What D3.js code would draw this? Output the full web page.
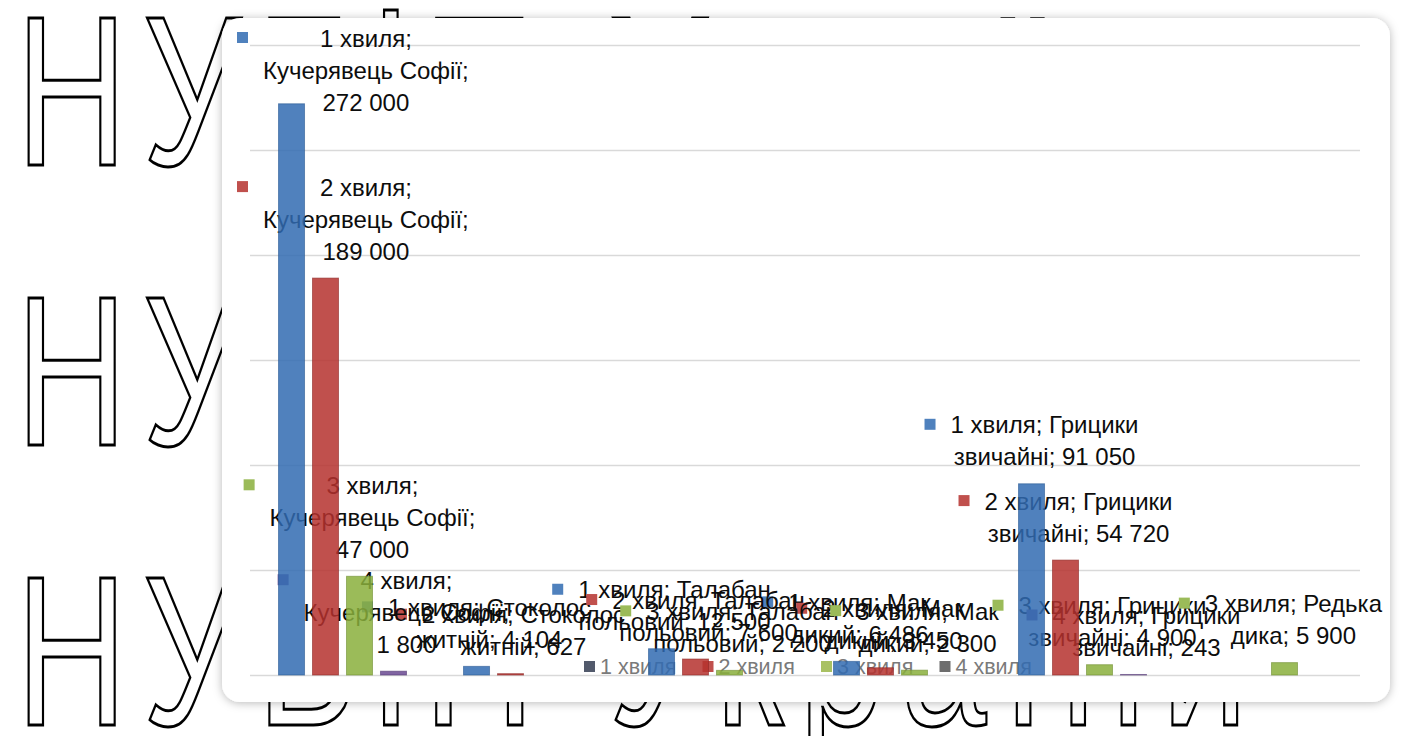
<!DOCTYPE html>
<html>
<head>
<meta charset="utf-8">
<script src="https://cdn.jsdelivr.net/npm/d3@7"></script>
<style>
  html, body { margin: 0; padding: 0; background: #fff; overflow: hidden; }
  svg { display: block; }
</style>
</head>
<body>
<svg id="chart" width="1402" height="736"></svg>
<script>
// ---- data ----
const categories = ["Кучерявець Софії", "Стоколос житній", "Талабан польовий", "Мак дикий", "Грицики звичайні", "Редька дика"];
const series = ["1 хвиля", "2 хвиля", "3 хвиля", "4 хвиля"];
const wave1 = [272000, 4104, 12500, 6486, 91050, null];
const wave2 = [189000, 627, 7600, 3450, 54720, null];
const wave3 = [47000, null, 2200, 2300, 4900, 5900];
const wave4 = [1800, null, null, null, 243, null];
const yTicks = [0, 50000, 100000, 150000, 200000, 250000, 300000];
const watermarkText = "НУБіП України";

// ---- styles ----
const keyColors = ["#4f81bd", "#c0504d", "#9bbb59", "#8064a2"];
const barColors = ["#316bb1", "#b5312e", "#89af3c", "#6a4992"];
const barEdges = ["#2a5a94", "#8f2826", "#6f8f30", "#553a75"];
const legendColors = ["#525a6c", "#c0504d", "#a9c163", "#6d6d6d"];
const labelFont = "'Liberation Sans', Arial, sans-serif";
const labelSize = 24;

const values = [wave1, wave2, wave3, wave4];
const box = { x: 222, y: 18, w: 1168, h: 684, r: 18 };
const plot = { left: 250, right: 1360, top: 45, bottom: 675 };

const svg = d3.select("#chart");
const defs = svg.append("defs");
const shadow = defs.append("filter").attr("id", "boxShadow")
  .attr("x", "-5%").attr("y", "-5%").attr("width", "110%").attr("height", "110%");
shadow.append("feDropShadow").attr("dx", 0).attr("dy", 1).attr("stdDeviation", 5)
  .attr("flood-color", "#000").attr("flood-opacity", 0.28);

// background outline lettering
const wm = svg.append("g").attr("font-family", labelFont).attr("font-size", 214);
[165, 445, 725].forEach(base => {
  wm.append("text")
    .attr("transform", `translate(16,${base}) scale(0.72,1)`)
    .attr("letter-spacing", 22)
    .attr("fill", "#fff").attr("stroke", "#000").attr("stroke-width", 3)
    .text(watermarkText);
});

// chart area
svg.append("rect")
  .attr("x", box.x).attr("y", box.y).attr("width", box.w).attr("height", box.h)
  .attr("rx", box.r).attr("fill", "#fff").attr("filter", "url(#boxShadow)");

// scales
const y = d3.scaleLinear().domain([0, 300000]).range([plot.bottom, plot.top]);
const x0 = d3.scaleBand().domain(categories).range([plot.left, plot.right]).padding(0);
const x1 = d3.scaleBand().domain(series).range([0, x0.bandwidth() * 0.735]).padding(0);
const barW = x1.step() * 0.765;
const groupOffset = (x0.bandwidth() - (x1.step() * (series.length - 1) + barW)) / 2;

// gridlines
const grid = svg.append("g")
  .attr("transform", `translate(${plot.left},0)`)
  .call(d3.axisLeft(y).tickValues(yTicks).tickSize(-(plot.right - plot.left)).tickFormat(""));
grid.select(".domain").remove();
grid.selectAll(".tick line").attr("stroke", "#d9d9d9").attr("stroke-width", 1.6);

// legend
const legendStep = 118.5;
const legendLeft = (plot.left + plot.right) / 2 - legendStep * series.length / 2 + 16;
const legend = svg.append("g").attr("font-family", labelFont).attr("font-size", 21.5);
series.forEach((s, i) => {
  const lx = legendLeft + i * legendStep;
  legend.append("rect").attr("x", lx).attr("y", 661).attr("width", 11).attr("height", 11)
    .attr("fill", legendColors[i]);
  legend.append("text").attr("x", lx + 16).attr("y", 667).attr("dominant-baseline", "central")
    .attr("fill", "#7a7a7a").text(s);
});

// bar records
const fmt = v => d3.format(",")(v).replace(/,/g, "\u00a0");
const bars = [];
series.forEach((s, si) => {
  categories.forEach((c, ci) => {
    const v = values[si][ci];
    if (v == null) return;
    const bx = x0(c) + groupOffset + x1(s);
    bars.push({ s, si, c, v, x: bx, top: y(v), cx: bx + barW / 2 });
  });
});

// data labels: key square + wrapped "series; category; value"
const measure = svg.append("text").attr("font-family", labelFont).attr("font-size", labelSize)
  .attr("visibility", "hidden");
const textW = t => { measure.text(t); return measure.node().getComputedTextLength(); };
const wrapWidth = 218;
function wrapWords(str) {
  const words = str.split(" ");
  const lines = [];
  let cur = "";
  words.forEach(w => {
    const trial = cur ? cur + " " + w : w;
    if (cur && textW(trial) > wrapWidth) { lines.push(cur); cur = w; }
    else cur = trial;
  });
  if (cur) lines.push(cur);
  return lines;
}

const lineH = 32, keySize = 11, keyGap = 15;
const labels = svg.append("g").attr("font-family", labelFont).attr("font-size", labelSize).attr("fill", "#0d0d0d");
bars.forEach(b => {
  const lines = wrapWords(`${b.s}; ${b.c}; ${fmt(b.v)}`);
  const maxW = d3.max(lines, textW);
  const blockW = keySize + keyGap + maxW;
  let left = b.cx - blockW / 2;
  left = Math.max(box.x + 15, Math.min(left, box.x + box.w - 8 - blockW));
  let firstY = b.top - 27 - (lines.length - 1) * lineH;
  firstY = Math.max(box.y + 20, firstY);
  const textCx = left + keySize + keyGap + maxW / 2;
  const g = labels.append("g");
  g.append("rect").attr("x", left).attr("y", firstY - 6).attr("width", keySize).attr("height", keySize)
    .attr("fill", keyColors[b.si]);
  lines.forEach((ln, li) => {
    g.append("text").attr("x", textCx).attr("y", firstY + li * lineH)
      .attr("text-anchor", "middle").attr("dominant-baseline", "central").text(ln);
  });
});
measure.remove();

// bars
svg.append("g").selectAll("rect").data(bars).join("rect")
  .attr("x", d => d.x).attr("y", d => d.top)
  .attr("width", barW).attr("height", d => plot.bottom - d.top)
  .attr("fill", d => barColors[d.si]).attr("fill-opacity", 0.85)
  .attr("stroke", d => barEdges[d.si]).attr("stroke-opacity", 0.6).attr("stroke-width", 1);
</script>
</body>
</html>
